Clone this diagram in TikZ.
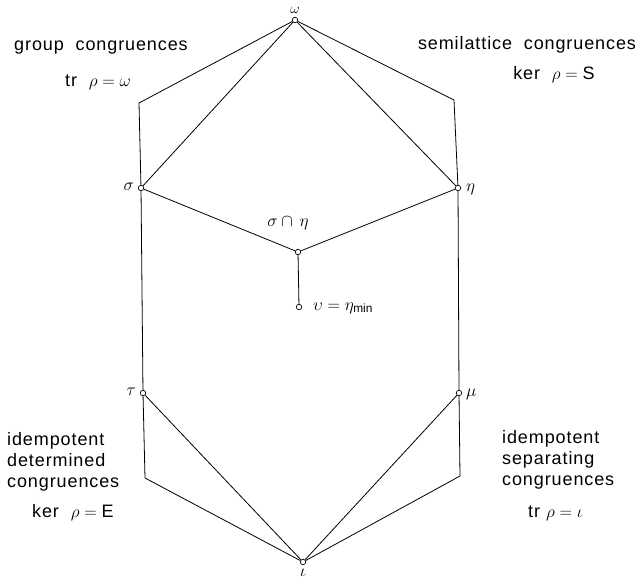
\documentclass[tikz,border=0pt]{standalone}
\usepackage{fontspec}
\setmainfont{Liberation Sans}[LetterSpace=5]
\begin{document}
\begin{tikzpicture}[x=1pt,y=-1pt,
  vtx/.style={circle,draw,fill=white,inner sep=0pt,minimum size=5.5pt,line width=0.7pt},
  lbl/.style={inner sep=0pt,font=\fontsize{17}{17}\selectfont},
  txt/.style={inner sep=0pt,font=\fontsize{18}{21}\selectfont,align=left},
  ln/.style={line width=0.8pt}]
\useasboundingbox (0,0) rectangle (639,581);
% vertices
\node[vtx] (omega) at (295,20) {};
\node[vtx] (sigma) at (141,188) {};
\node[vtx] (eta) at (458,188) {};
\node[vtx] (meet) at (298,252) {};
\node[vtx] (ups) at (299,307) {};
\node[vtx] (tau) at (143,393) {};
\node[vtx] (mu) at (459,393) {};
\node[vtx] (iota) at (303,562) {};
\coordinate (lt) at (139,103);
\coordinate (rt) at (454,100);
\coordinate (lb) at (145,478);
\coordinate (rb) at (460,476);
% edges
\draw[ln] (omega) -- (lt) -- (sigma);
\draw[ln] (omega) -- (sigma);
\draw[ln] (omega) -- (eta);
\draw[ln] (omega) -- (rt) -- (eta);
\draw[ln] (sigma) -- (meet) -- (eta);
\draw[ln] (meet) -- (ups);
\draw[ln] (sigma) -- (tau);
\draw[ln] (eta) -- (mu);
\draw[ln] (tau) -- (iota);
\draw[ln] (tau) -- (lb) -- (iota);
\draw[ln] (mu) -- (iota);
\draw[ln] (mu) -- (rb) -- (iota);
% vertex labels
\node[lbl,font=\fontsize{15}{15}\selectfont] (lomega) at (295,10) {$\omega$};
\node[lbl,anchor=east] (lsigma) at (134,187) {$\sigma$};
\node[lbl,anchor=west] (leta) at (466,189) {$\eta$};
\node[lbl,anchor=east] (ltau) at (136,392) {$\tau$};
\node[lbl,anchor=west] (lmu) at (466,394) {$\mu$};
\node[lbl] (liota) at (303,573) {$\iota$};
\node[lbl] (lmeet) at (288,223) {$\sigma\cap\,\eta$};
\node[lbl,anchor=west] (lups) at (313,308) {$\upsilon=\eta_{\mathrm{min}}$};
% annotations
\node[txt] (t1) at (101,48) {group\ \ congruences};
\node[txt] (t2) at (98,82) {tr\ \ $\rho=\omega$};
\node[txt] (t3) at (527,45) {semilattice\ \ congruences};
\node[txt] (t4) at (554,75) {ker\ \ $\rho=\hbox{S}$};
\node[txt,anchor=north west] (t5) at (7,432) {idempotent\\determined\\congruences};
\node[txt,anchor=west] (t6) at (32,513) {ker\ \ $\rho=\hbox{E}$};
\node[txt,anchor=north west] (t7) at (502,430) {idempotent\\separating\\congruences};
\node[txt,anchor=west] (t8) at (528,513) {tr\ $\rho=\iota$};
\end{tikzpicture}
\end{document}
